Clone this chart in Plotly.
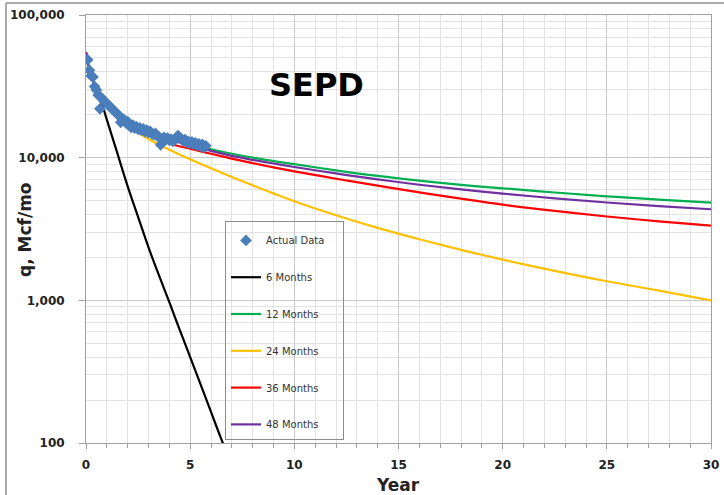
import plotly.graph_objects as go

# ---------------- data ----------------
actual_month = list(range(1, 70))
actual_q = [48500, 41000, 37500, 36800, 31500, 29800, 27500, 22000, 26300, 25200,
            24600, 24000, 23300, 22700, 22000, 21400, 20900, 20200, 19700, 17700,
            18800, 18400, 17500, 17900, 16800, 16300, 16900, 16100, 16500, 15800,
            16200, 15500, 15900, 15200, 15600, 15000, 15300, 14700, 14500, 14800,
            14200, 14000, 12300, 13600, 13900, 13400, 13700, 13200, 13500, 13000,
            13300, 13800, 14300, 13900, 13500, 13100, 13400, 12800, 13000, 12600,
            12900, 12400, 12700, 12200, 12500, 12000, 12400, 11800, 12100]

m6_years = [0, 0.1, 0.25, 0.5, 0.75, 1, 1.5, 2, 2.5, 3, 3.5, 4, 4.5, 5, 5.5, 6, 6.5, 7]
m6_q = [55000, 45000, 38000, 28500, 24000, 18500, 10800, 6300, 3850, 2350, 1500, 970,
        620, 400, 258, 165, 106, 70]

fc_years = [0, 0.1, 0.25, 0.5, 0.75, 1, 1.5, 2, 2.5, 3, 4, 5, 6, 7, 8, 9, 10,
            12, 14, 16, 18, 20, 22.5, 25, 27.5, 30]
m12_q = [55000, 45000, 38000, 30000, 26500, 24200, 20800, 18600, 17000, 15800, 13600,
         12450, 11450, 10650, 10000, 9470, 9000, 8150, 7450, 6900, 6450, 6100, 5700,
         5360, 5080, 4840]
m24_q = [55000, 45000, 38000, 30000, 26500, 24000, 20300, 17000, 15000, 13500, 11350,
         9740, 8420, 7320, 6400, 5620, 4950, 3950, 3220, 2680, 2260, 1930, 1610,
         1360, 1170, 1000]
m36_q = [55000, 45000, 38000, 30000, 26500, 24000, 20500, 18200, 16600, 15400, 12600,
         11550, 10650, 9850, 9150, 8550, 8020, 7120, 6360, 5710, 5160, 4690, 4240,
         3870, 3580, 3340]
m48_q = [55000, 45000, 38000, 30000, 26500, 24000, 20600, 18400, 16800, 15600, 13400,
         12200, 11150, 10300, 9650, 9100, 8600, 7750, 7050, 6460, 5990, 5600, 5190,
         4850, 4580, 4350]

x_ticks = [0, 5, 10, 15, 20, 25, 30]
y_ticks = [100, 1000, 10000, 100000]
y_ticktext = ["100", "1,000", "10,000", "100,000"]

# ---------------- figure ----------------
W, H = 724, 495
L, R, T, B = 86, 13, 15, 52
pw, ph = W - L - R, H - T - B

FONT = "DejaVu Sans"


def px_x(p):
    return (p - L) / pw


def px_y(p):
    return (H - B - p) / ph


fig = go.Figure()

line_w = 2.2
series = [
    ("6 Months", m6_years, m6_q, "#000000", 2),
    ("24 Months", fc_years, m24_q, "#FFC000", 4),
    ("36 Months", fc_years, m36_q, "#FF0000", 5),
    ("12 Months", fc_years, m12_q, "#00B050", 3),
    ("48 Months", fc_years, m48_q, "#7030A0", 6),
]
for name, xs, ys, col, rank in series:
    fig.add_trace(go.Scatter(
        x=xs, y=ys, mode="lines", name=name,
        line=dict(color=col, width=line_w, shape="spline", smoothing=1.0),
        legendrank=rank, legendgroup=name,
    ))

fig.add_trace(go.Scatter(
    x=[m / 12 for m in actual_month], y=actual_q, mode="markers",
    name="Actual Data\u00a0\u00a0\u00a0\u00a0",
    marker=dict(symbol="diamond", size=9, color="#4A7EBB"),
    legendrank=1, legendgroup="Actual Data",
))

major_grid = "#C8C8C8"
minor_grid = "#E3E3E3"
axis_col = "#A0A0A0"

fig.update_xaxes(
    range=[0, 30], tickvals=x_ticks, automargin=False,
    showgrid=True, gridcolor=major_grid, gridwidth=1,
    showline=True, linecolor=axis_col, linewidth=1, mirror=True,
    ticks="outside", ticklen=5, tickcolor=axis_col,
    minor=dict(dtick=1, showgrid=True, gridcolor=minor_grid, gridwidth=1,
               ticks="outside", ticklen=4, tickcolor=axis_col),
    tickfont=dict(family=FONT, size=12, color="#222222", weight="bold"),
    ticklabelstandoff=6,
    zeroline=False,
)
minor_y = [m * 10 ** e for e in range(2, 5) for m in range(2, 10)]
fig.update_yaxes(
    type="log", range=[2, 5], tickvals=y_ticks, ticktext=y_ticktext, automargin=False,
    showgrid=True, gridcolor=major_grid, gridwidth=1,
    showline=True, linecolor=axis_col, linewidth=1, mirror=True,
    ticks="outside", ticklen=6, tickcolor=axis_col,
    minor=dict(tickvals=minor_y, showgrid=True, gridcolor=minor_grid, gridwidth=1, ticks=""),
    tickfont=dict(family=FONT, size=12, color="#222222", weight="bold"),
    ticklabelstandoff=12,
    zeroline=False,
)

fig.update_layout(
    width=W, height=H,
    margin=dict(l=L, r=R, t=T, b=B, autoexpand=False),
    plot_bgcolor="white", paper_bgcolor="white",
    showlegend=True,
    legend=dict(
        x=px_x(225), y=px_y(221), xanchor="left", yanchor="top",
        bgcolor="rgba(255,255,255,0)", bordercolor="#8C8C8C", borderwidth=1,
        font=dict(family=FONT, size=10, color="#333333"),
        title=dict(text="\u00a0", font=dict(size=3)),
        traceorder="grouped", tracegroupgap=17.8,
        itemwidth=30,
    ),
    annotations=[
        dict(text="SEPD", xref="paper", yref="paper",
             x=px_x(316), y=px_y(85), xanchor="center", yanchor="middle", showarrow=False,
             font=dict(family=FONT, size=32, color="black", weight="bold")),
        dict(text="q, Mcf/mo", xref="paper", yref="paper",
             x=px_x(25), y=px_y(229), xanchor="center", yanchor="middle",
             showarrow=False, textangle=-90,
             font=dict(family=FONT, size=17, color="#222222", weight="bold")),
        dict(text="Year", xref="paper", yref="paper",
             x=px_x(398), y=px_y(485), xanchor="center", yanchor="middle", showarrow=False,
             font=dict(family=FONT, size=17, color="#222222", weight="bold")),
    ],
    shapes=[
        dict(type="line", xref="paper", yref="paper",
             x0=px_x(6), x1=1.2, y0=px_y(3), y1=px_y(3),
             line=dict(color="#909090", width=1.5)),
        dict(type="line", xref="paper", yref="paper",
             x0=px_x(6), x1=px_x(6), y0=px_y(3), y1=-0.3,
             line=dict(color="#909090", width=1.5)),
    ],
)

fig.write_html("out.html", config={"displayModeBar": False},
               post_script="document.body.style.margin='0px';")
